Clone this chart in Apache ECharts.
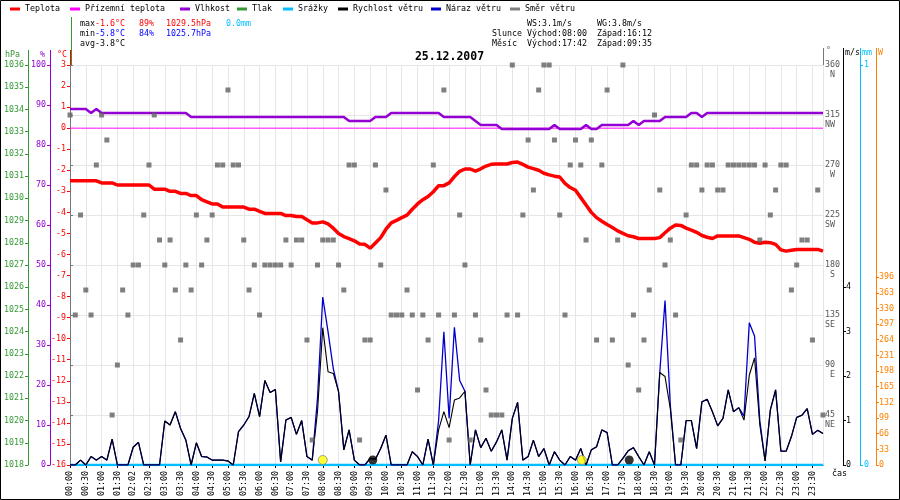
<!DOCTYPE html>
<html><head><meta charset="utf-8">
<script src="https://cdn.jsdelivr.net/npm/echarts@6/dist/echarts.min.js"></script>
<style>html,body{margin:0;padding:0;background:#fff}#c{width:900px;height:500px}</style>
</head><body><div id="c"></div><script>
// ---------- DATA (10-minute samples from 00:00 to 23:50) ----------
const timeLabels = ['00:00','00:30','01:00','01:30','02:02','02:30','03:00','03:30','04:00','04:30','05:00','05:30',
 '06:00','06:30','07:00','07:30','08:00','08:30','09:00','09:30','10:00','10:30','11:00','11:30',
 '12:00','12:30','13:00','13:30','14:00','14:30','15:00','15:30','16:00','16:30','17:00','17:30',
 '18:00','18:30','19:00','19:30','20:00','20:30','21:00','21:30','22:00','22:30','23:00','23:30'];

const temperature = [
 -2.5,-2.5,-2.5,-2.5,-2.5,-2.5,-2.6,-2.6,-2.6,-2.7,-2.7,-2.7,-2.7,-2.7,-2.7,-2.7,
 -2.9,-2.9,-2.9,-3.0,-3.0,-3.1,-3.1,-3.2,-3.2,-3.4,-3.5,-3.6,-3.6,-3.75,-3.75,-3.75,
 -3.75,-3.75,-3.85,-3.85,-3.95,-4.05,-4.05,-4.05,-4.05,-4.15,-4.15,-4.2,-4.2,-4.35,-4.5,-4.5,
 -4.45,-4.55,-4.75,-5.0,-5.15,-5.25,-5.35,-5.5,-5.52,-5.7,-5.45,-5.2,-4.8,-4.5,-4.38,-4.25,
 -4.13,-3.85,-3.6,-3.4,-3.25,-3.02,-2.73,-2.73,-2.6,-2.3,-2.05,-1.94,-1.94,-2.04,-1.93,-1.8,
 -1.72,-1.7,-1.7,-1.7,-1.63,-1.61,-1.72,-1.85,-1.92,-2.0,-2.14,-2.22,-2.28,-2.32,-2.62,-2.82,
 -2.95,-3.3,-3.65,-4.0,-4.25,-4.42,-4.58,-4.72,-4.88,-5.0,-5.11,-5.16,-5.24,-5.24,-5.24,-5.24,
 -5.2,-4.97,-4.75,-4.6,-4.62,-4.75,-4.84,-4.95,-5.1,-5.18,-5.24,-5.12,-5.12,-5.12,-5.12,-5.12,
 -5.2,-5.28,-5.42,-5.47,-5.42,-5.44,-5.52,-5.78,-5.84,-5.8,-5.76,-5.76,-5.76,-5.76,-5.76,-5.84];

const groundTemperature = [
 0,0,0,0,0,0,0,0,0,0,0,0,0,0,0,0,0,0,0,0,0,0,0,0,0,0,0,0,0,0,0,0,0,0,0,0,0,0,0,0,0,0,0,0,0,0,0,0,
 0,0,0,0,0,0,0,0,0,0,0,0,0,0,0,0,0,0,0,0,0,0,0,0,0,0,0,0,0,0,0,0,0,0,0,0,0,0,0,0,0,0,0,0,0,0,0,0,
 0,0,0,0,0,0,0,0,0,0,0,0,0,0,0,0,0,0,0,0,0,0,0,0,0,0,0,0,0,0,0,0,0,0,0,0,0,0,0,0,0,0,0,0,0,0,0,0];

const humidity = [
 89,89,89,89,88,89,88,88,88,88,88,88,88,88,88,88,88,88,88,88,88,88,88,87,87,87,87,87,87,87,87,87,
 87,87,87,87,87,87,87,87,87,87,87,87,87,87,87,87,87,87,87,87,87,86,86,86,86,86,87,87,87,88,88,88,
 88,88,88,88,88,88,88,87,87,87,87,87,87,86,85,85,85,85,84,84,84,84,84,84,84,84,84,84,85,84,84,84,
 84,84,85,84,84,85,85,85,85,85,85,86,85,86,86,86,86,87,87,87,87,87,88,88,87,88,88,88,88,88,88,88,
 88,88,88,88,88,88,88,88,88,88,88,88,88,88,88,88];

const pressure = [];

const precipitation = [
 0,0,0,0,0,0,0,0,0,0,0,0,0,0,0,0,0,0,0,0,0,0,0,0,0,0,0,0,0,0,0,0,0,0,0,0,0,0,0,0,0,0,0,0,0,0,0,0,
 0,0,0,0,0,0,0,0,0,0,0,0,0,0,0,0,0,0,0,0,0,0,0,0,0,0,0,0,0,0,0,0,0,0,0,0,0,0,0,0,0,0,0,0,0,0,0,0,
 0,0,0,0,0,0,0,0,0,0,0,0,0,0,0,0,0,0,0,0,0,0,0,0,0,0,0,0,0,0,0,0,0,0,0,0,0,0,0,0,0,0,0,0,0,0,0,0];

const windSpeed = [
 0,0,0.11,0,0.19,0.11,0.19,0.11,0.58,0,0,0,0.4,0.51,0,0,
 0,0,0.99,0.9,1.2,0.82,0.56,0,0.5,0.19,0.18,0.11,0.11,0.11,0.09,0,
 0.75,0.9,1.09,1.61,1.09,1.9,1.63,1.7,0.07,1.01,1.07,0.69,1.0,0.19,0.11,1.2,
 3.09,2.1,2.06,1.65,0.34,0.79,0.11,0,0,0.15,0.13,0.37,0.67,0,0,0,
 0,0.3,0.19,0,0.58,0,0.79,1.2,0.84,1.46,1.51,1.66,0,0.79,0.39,0.6,
 0.31,0.52,0.79,0.11,1.05,1.41,0.11,0.19,0.56,0.19,0.37,0,0.3,0.11,0,0.19,
 0.11,0.37,0,0.34,0.41,0.79,0.73,0,0,0.15,0.32,0.39,0.19,0,0.3,0,
 2.08,1.99,1.27,0,0,1.0,1.0,0.37,1.42,1.48,1.2,0.88,1.05,1.69,1.2,1.29,
 1.01,2.02,2.41,0.9,0.09,1.24,1.69,0.31,0.31,0.64,1.07,1.12,1.27,0.69,0.78,0.71];

const windGust = [
 0,0,0.11,0,0.19,0.11,0.19,0.11,0.58,0,0,0,0.4,0.51,0,0,
 0,0,0.99,0.9,1.2,0.82,0.56,0,0.5,0.19,0.18,0.11,0.11,0.11,0.09,0,
 0.75,0.9,1.09,1.61,1.09,1.9,1.63,1.7,0.07,1.01,1.07,0.69,1.0,0.19,0.11,1.5,
 3.78,3.0,2.17,1.65,0.34,0.79,0.11,0,0,0.15,0.13,0.37,0.67,0,0,0,
 0,0.3,0.19,0,0.58,0,1.0,3.0,1.05,3.1,1.9,1.66,0,0.79,0.39,0.6,
 0.31,0.52,0.79,0.11,1.05,1.41,0.11,0.19,0.56,0.19,0.37,0,0.3,0.11,0,0.19,
 0.11,0.37,0,0.34,0.41,0.79,0.73,0,0,0.15,0.32,0.39,0.19,0,0.3,0,
 2.08,3.7,1.35,0,0,1.0,1.0,0.37,1.42,1.48,1.2,0.88,1.05,1.69,1.2,1.29,
 1.1,3.2,2.9,1.0,0.09,1.24,1.69,0.31,0.31,0.64,1.07,1.12,1.27,0.69,0.78,0.71];

const windDirection = [
 315,135,225,157.5,135,270,315,292.5,45,90,157.5,135,180,180,225,270,
 315,202.5,180,202.5,157.5,112.5,180,157.5,225,180,202.5,225,270,270,337.5,270,
 270,202.5,157.5,180,135,180,180,180,180,202.5,180,202.5,202.5,112.5,22.5,180,
 202.5,202.5,202.5,180,157.5,270,270,22.5,112.5,112.5,270,180,247.5,135,135,135,
 157.5,135,67.5,135,112.5,270,135,337.5,22.5,135,225,180,22.5,135,112.5,67.5,
 45,45,45,135,360,135,225,292.5,247.5,337.5,360,360,292.5,225,135,270,
 292.5,270,202.5,292.5,112.5,270,337.5,112.5,202.5,360,90,135,67.5,112.5,157.5,315,
 247.5,180,202.5,135,22.5,225,270,270,247.5,270,270,247.5,247.5,270,270,270,
 270,270,270,202.5,270,225,247.5,270,270,157.5,180,202.5,202.5,112.5,247.5,45];

const sunEvents = [480, 972];   // sunrise 08:00, sunset 16:12
const moonEvents = [575, 1062]; // moonset 09:35, moonrise 17:42

const compassNames = { 45:'NE', 90:'E', 135:'SE', 180:'S', 225:'SW', 270:'W', 315:'NW', 360:'N' };
const windTicks = [0, 1, 2, 3, 4];
const solarTicks = [0, 33, 66, 99, 132, 165, 198, 231, 264, 297, 330, 363, 396];

const seriesNames = ['Teplota','Přízemní teplota','Vlhkost','Tlak','Srážky','Rychlost větru','Náraz větru','Směr větru'];
const titleText = '25.12.2007';
const statRows = [
  [['max','#000'],['-1.6°C','#f00'],['89%','#f00'],['1029.5hPa','#f00'],['0.0mm','#00bfff']],
  [['min','#000'],['-5.8°C','#00f'],['84%','#00f'],['1025.7hPa','#00f']],
  [['avg','#000'],['-3.8°C','#000']]
];
const astroRows = [
  ['', 'WS:3.1m/s', 'WG:3.8m/s'],
  ['Slunce', 'Východ:08:00', 'Západ:16:12'],
  ['Měsíc', 'Východ:17:42', 'Západ:09:35']
];

// ---------- LAYOUT / STYLE ----------
const FONT = '"DejaVu Sans Mono", monospace';
const FS = 8.3;
const C = { temp:'#ff0000', ground:'#ff00ff', hum:'#9400d3', pres:'#339933', rain:'#00bfff',
            ws:'#000000', wg:'#0000cc', dir:'#606060', solar:'#ff8000', grid:'#e6e6e6' };
const legendLeft = [10, 70, 180, 237, 283, 338, 431, 510];
const statCols = [80, 95, 139, 166, 226];
const astroCols = [492, 527, 597];
const rowY = [24, 34, 44];

const t = temperature.map((_, i) => i * 10);
const pair = arr => arr.map((v, i) => [t[i], v]);

const chart = echarts.init(document.getElementById('c'), null, { renderer: 'canvas' });

const lbl = (color) => ({ color, fontFamily: FONT, fontSize: FS, formatter: v => String(v) });

function yAx(o) {
  return Object.assign({
    type: 'value', splitLine: { show: false },
    axisTick: { show: true, length: 3, lineStyle: { color: o.color } },
    axisLine: { show: true, onZero: false, lineStyle: { color: o.color, width: 1 } },
    axisLabel: Object.assign(lbl(o.color), { margin: 4 })
  }, o.extra);
}

const graphics = [];
statRows.forEach((row, r) => row.forEach((cell, k) => graphics.push({
  type: 'text', x: statCols[k], y: rowY[r],
  style: { text: cell[0], fill: cell[1], font: FS + 'px ' + FONT, textVerticalAlign: 'middle', verticalAlign: 'middle' }, z: 50 })));
astroRows.forEach((row, r) => row.forEach((cell, k) => cell && graphics.push({
  type: 'text', x: astroCols[k], y: rowY[r],
  style: { text: cell, fill: '#000', font: FS + 'px ' + FONT, textVerticalAlign: 'middle', verticalAlign: 'middle' }, z: 50 })));
graphics.push({ type: 'text', x: 449.5, y: 57,
  style: { text: titleText, fill: '#000', font: 'bold 11.5px ' + FONT, textAlign: 'center', align: 'center', textVerticalAlign: 'middle', verticalAlign: 'middle' }, z: 50 });
[['hPa', 5, 54.5, C.pres], ['%', 40, 54.5, C.hum], ['°C', 57, 54.5, C.temp], ['°', 826, 51, C.dir],
 ['m/s', 845, 53, '#000'], ['mm', 862, 53, C.rain], ['W', 878, 53, C.solar], ['čas', 832, 474, '#000']]
 .forEach(u => graphics.push({ type: 'text', x: u[1], y: u[2],
   style: { text: u[0], fill: u[3], font: FS + 'px ' + FONT, textVerticalAlign: 'middle', verticalAlign: 'middle' }, z: 50 }));
[[28.5, 50, C.pres], [50.5, 50, C.hum], [70.5, 50, C.temp], [71.5, 17, C.pres],
 [823.5, 48, '#777'], [843.5, 48, '#000'], [860.5, 48, C.rain], [876.5, 48, C.solar]]
 .forEach(l => graphics.push({ type: 'line', shape: { x1: l[0], y1: l[1], x2: l[0], y2: 65 },
   style: { stroke: l[2], lineWidth: 1 }, z: 40 }));
graphics.push({ type: 'rect', shape: { x: 0.5, y: 0.5, width: 899, height: 499 },
  style: { fill: null, stroke: '#000', lineWidth: 1 }, z: 60, silent: true });

const option = {
  animation: false,
  backgroundColor: '#fff',
  textStyle: { fontFamily: FONT },
  legend: seriesNames.map((n, i) => ({
    data: [n], left: legendLeft[i], top: 5, padding: 0, icon: 'rect', itemWidth: 10, itemHeight: 3,
    selectedMode: false, textStyle: { color: '#000', fontFamily: FONT, fontSize: FS }
  })),
  grid: { left: 70, right: 77, top: 65, bottom: 35, containLabel: false },
  xAxis: {
    type: 'value', min: 0, max: 1430, interval: 30,
    axisLine: { show: true, onZero: false, lineStyle: { color: '#000' } },
    axisTick: { show: true, length: 3, lineStyle: { color: '#000' } },
    axisLabel: { rotate: 90, margin: 6, color: '#000', fontFamily: FONT, fontSize: FS, showMaxLabel: false,
      formatter: v => (v % 30 === 0 && timeLabels[v / 30] !== undefined) ? timeLabels[v / 30] : '' },
    splitLine: { show: true, lineStyle: { color: C.grid, width: 1 } }
  },
  yAxis: [
    yAx({ color: C.temp, extra: { position: 'left', offset: 0, min: -16, max: 3, interval: 1 } }),
    yAx({ color: C.hum, extra: { position: 'left', offset: 20, min: 0, max: 100, interval: 10 } }),
    yAx({ color: C.pres, extra: { position: 'left', offset: 42, min: 1018, max: 1036, interval: 1 } }),
    {
      type: 'value', position: 'right', offset: 0, min: 0, max: 360, interval: 45,
      axisLine: { show: true, lineStyle: { color: '#777', width: 1 } },
      axisTick: { show: true, length: 3, lineStyle: { color: '#777' } },
      splitLine: { show: true, lineStyle: { color: C.grid, width: 1 } },
      axisLabel: {
        margin: 2, color: '#555', fontFamily: FONT, fontSize: FS,
        formatter: v => v === 0 ? '' : '{s| }\n{n|' + v + '}\n{d|' + compassNames[v].padStart(2, ' ') + '}',
        rich: {
          s: { lineHeight: 10, fontFamily: FONT, fontSize: FS, color: '#555' },
          n: { lineHeight: 10, fontFamily: FONT, fontSize: FS, color: '#555' },
          d: { lineHeight: 10, fontFamily: FONT, fontSize: FS, color: '#555' }
        }
      }
    },
    yAx({ color: '#000', extra: { position: 'right', offset: 20, min: 0, max: 9,
      axisLabel: Object.assign(lbl('#000'), { margin: 3, customValues: windTicks }),
      axisTick: { show: true, length: 3, customValues: windTicks, lineStyle: { color: '#000' } } } }),
    yAx({ color: C.rain, extra: { position: 'right', offset: 37, min: 0, max: 1, interval: 1 } }),
    yAx({ color: C.solar, extra: { position: 'right', offset: 53, min: 0, max: 843,
      axisLabel: Object.assign(lbl(C.solar), { margin: 3, customValues: solarTicks }),
      axisTick: { show: true, length: 3, customValues: solarTicks, lineStyle: { color: C.solar } } } })
  ],
  graphic: graphics,
  series: [
    { name: 'Srážky', type: 'line', yAxisIndex: 5, data: pair(precipitation), showSymbol: false,
      lineStyle: { color: C.rain, width: 2.5 }, itemStyle: { color: C.rain }, z: 4 },
    { name: 'Přízemní teplota', type: 'line', yAxisIndex: 0, data: pair(groundTemperature), showSymbol: false,
      lineStyle: { color: C.ground, width: 1 }, itemStyle: { color: C.ground }, z: 3 },
    { name: 'Vlhkost', type: 'line', yAxisIndex: 1, data: pair(humidity), showSymbol: false,
      lineStyle: { color: C.hum, width: 2.5 }, itemStyle: { color: C.hum }, z: 3 },
    { name: 'Tlak', type: 'line', yAxisIndex: 2, data: pressure, showSymbol: false,
      lineStyle: { color: C.pres, width: 2 }, itemStyle: { color: C.pres }, z: 3 },
    { name: 'Teplota', type: 'line', yAxisIndex: 0, data: pair(temperature), showSymbol: false,
      lineStyle: { color: C.temp, width: 3.5 }, itemStyle: { color: C.temp }, z: 5 },
    { name: 'Náraz větru', type: 'line', yAxisIndex: 4, data: pair(windGust), showSymbol: false,
      lineStyle: { color: C.wg, width: 1.3 }, itemStyle: { color: C.wg }, z: 5 },
    { name: 'Rychlost větru', type: 'line', yAxisIndex: 4, data: pair(windSpeed), showSymbol: false,
      lineStyle: { color: C.ws, width: 1.1 }, itemStyle: { color: C.ws }, z: 6 },
    { name: 'Směr větru', type: 'scatter', yAxisIndex: 3, data: pair(windDirection), symbol: 'rect', symbolSize: 5,
      itemStyle: { color: C.dir }, z: 7 },
    { name: 'sun', type: 'scatter', yAxisIndex: 4, data: sunEvents.map(m => [m, 0]), symbol: 'circle', symbolSize: 9,
      symbolOffset: [0, -5], itemStyle: { color: '#ffff00', borderColor: '#888', borderWidth: 1 }, z: 8 },
    { name: 'moon', type: 'scatter', yAxisIndex: 4, data: moonEvents.map(m => [m, 0]), symbol: 'circle', symbolSize: 9,
      symbolOffset: [0, -5], itemStyle: { color: '#000' }, z: 8 }
  ]
};
chart.setOption(option);
</script></body></html>
